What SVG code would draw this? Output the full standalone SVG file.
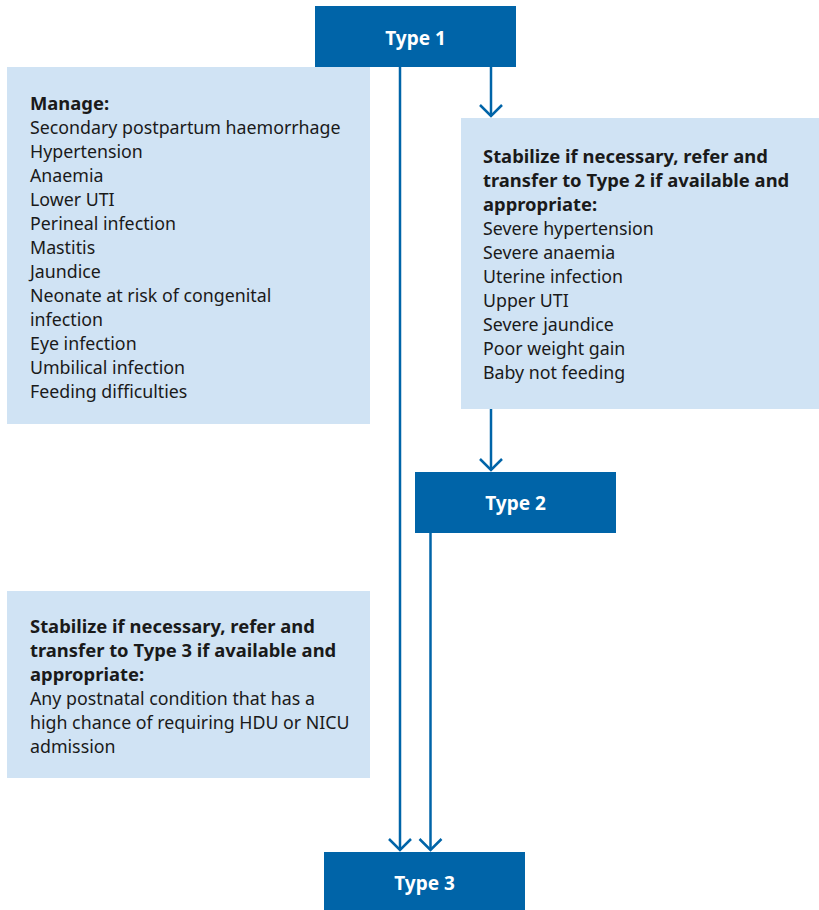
<svg xmlns="http://www.w3.org/2000/svg" width="819" height="910" viewBox="0 0 819 910">
<style>
.hdr{fill:#0064A8}
.box{fill:#D0E3F4}
.hl{font-family:"Noto Sans","Liberation Sans",sans-serif;font-size:19px;font-weight:bold;fill:#ffffff;text-anchor:middle}
.t{font-family:"Noto Sans","Liberation Sans",sans-serif;font-size:17.8px;fill:#1a1a1a}
.b{font-weight:bold;font-size:18.4px}
.con{stroke:#0064A8;stroke-width:2.5;fill:none}
</style>
<g id="connectors">
<line class="con" x1="400" y1="67" x2="400" y2="850"/>
<path class="con" d="M389,839 L400,850 L411,839"/>
<line class="con" x1="491" y1="67" x2="491" y2="116"/>
<path class="con" d="M480,105 L491,116 L502,105"/>
<line class="con" x1="491" y1="409" x2="491" y2="470"/>
<path class="con" d="M480,459 L491,470 L502,459"/>
<line class="con" x1="430.5" y1="533" x2="430.5" y2="850"/>
<path class="con" d="M419.5,839 L430.5,850 L441.5,839"/>
</g>
<g id="type1">
<rect class="hdr" x="315" y="6" width="201" height="61"/>
<text class="hl" x="415.5" y="45">Type 1</text>
</g>
<g id="manage">
<rect class="box" x="7" y="67" width="363" height="357"/>
<text class="t" x="30" y="110"><tspan class="b">Manage:</tspan><tspan x="30" dy="24">Secondary postpartum haemorrhage</tspan><tspan x="30" dy="24">Hypertension</tspan><tspan x="30" dy="24">Anaemia</tspan><tspan x="30" dy="24">Lower UTI</tspan><tspan x="30" dy="24">Perineal infection</tspan><tspan x="30" dy="24">Mastitis</tspan><tspan x="30" dy="24">Jaundice</tspan><tspan x="30" dy="24">Neonate at risk of congenital</tspan><tspan x="30" dy="24">infection</tspan><tspan x="30" dy="24">Eye infection</tspan><tspan x="30" dy="24">Umbilical infection</tspan><tspan x="30" dy="24">Feeding difficulties</tspan></text>
</g>
<g id="refer2">
<rect class="box" x="461" y="118" width="358" height="291"/>
<text class="t" x="483" y="163"><tspan class="b">Stabilize if necessary, refer and</tspan><tspan class="b" x="483" dy="24">transfer to Type 2 if available and</tspan><tspan class="b" x="483" dy="24">appropriate:</tspan><tspan x="483" dy="24">Severe hypertension</tspan><tspan x="483" dy="24">Severe anaemia</tspan><tspan x="483" dy="24">Uterine infection</tspan><tspan x="483" dy="24">Upper UTI</tspan><tspan x="483" dy="24">Severe jaundice</tspan><tspan x="483" dy="24">Poor weight gain</tspan><tspan x="483" dy="24">Baby not feeding</tspan></text>
</g>
<g id="type2">
<rect class="hdr" x="415" y="472" width="201" height="61"/>
<text class="hl" x="515.5" y="510">Type 2</text>
</g>
<g id="refer3">
<rect class="box" x="7" y="591" width="363" height="187"/>
<text class="t" x="30" y="633"><tspan class="b">Stabilize if necessary, refer and</tspan><tspan class="b" x="30" dy="24">transfer to Type 3 if available and</tspan><tspan class="b" x="30" dy="24">appropriate:</tspan><tspan x="30" dy="24">Any postnatal condition that has a</tspan><tspan x="30" dy="24">high chance of requiring HDU or NICU</tspan><tspan x="30" dy="24">admission</tspan></text>
</g>
<g id="type3">
<rect class="hdr" x="324" y="852" width="201" height="58"/>
<text class="hl" x="424.5" y="890">Type 3</text>
</g>
</svg>
